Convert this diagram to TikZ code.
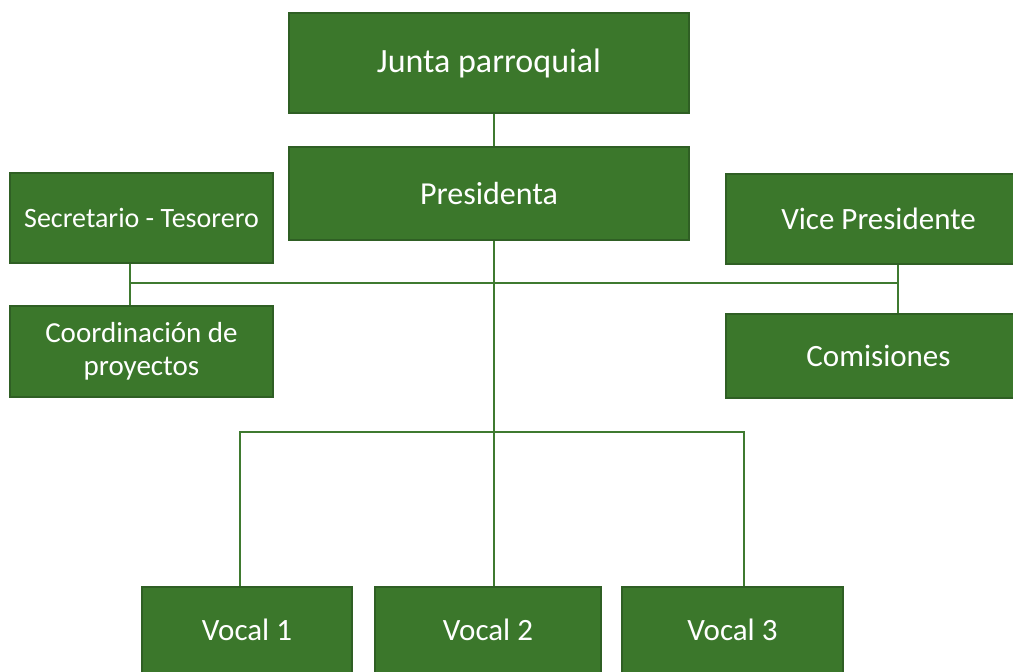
\documentclass[tikz,border=0pt]{standalone}
\usepackage{fontspec}
\setmainfont{Carlito}
\definecolor{boxfill}{HTML}{3B772B}
\definecolor{boxedge}{HTML}{2F5F24}
\definecolor{linkcol}{HTML}{3F7A30}
\begin{document}
\begin{tikzpicture}[x=1pt,y=-1pt,
  orgbox/.style={draw=boxedge, fill=boxfill, line width=1.5pt, inner sep=0pt,
    text=white, align=center},
  link/.style={draw=linkcol, line width=2.8pt}]
\useasboundingbox[fill=white] (0,0) rectangle (1013,672);
% boxes
\node[orgbox, minimum width=400, minimum height=100, font=\fontsize{34}{40}\selectfont] (jp) at (489,63) {Junta parroquial};
\node[orgbox, minimum width=400, minimum height=93, font=\fontsize{32}{38}\selectfont] (pres) at (489,193.5) {Presidenta};
\node[orgbox, minimum width=263, minimum height=90, font=\fontsize{28}{33}\selectfont] (sec) at (141.5,218) {Secretario - Tesorero};
\node[orgbox, minimum width=263, minimum height=91, font=\fontsize{29}{33}\selectfont] (coord) at (141.5,351.5) {Coordinación de\\proyectos};
\node[orgbox, minimum width=305, minimum height=90, font=\fontsize{31}{36}\selectfont] (vice) at (878.5,219) {Vice Presidente};
\node[orgbox, minimum width=305, minimum height=84, font=\fontsize{31}{36}\selectfont] (com) at (878.5,356) {Comisiones};
\node[orgbox, minimum width=210, minimum height=86, font=\fontsize{31}{36}\selectfont] (v1) at (247,630) {Vocal 1};
\node[orgbox, minimum width=226, minimum height=86, font=\fontsize{31}{36}\selectfont] (v2) at (488,630) {Vocal 2};
\node[orgbox, minimum width=221, minimum height=86, font=\fontsize{31}{36}\selectfont] (v3) at (732.5,630) {Vocal 3};
% junction coordinates
\coordinate (axis) at (494,0);
\coordinate (lx) at (130,283);
\coordinate (rx) at (898,283);
\coordinate (bl) at (240,432);
\coordinate (br) at (744,432);
% connectors
\draw[link] (jp.south -| axis) -- (pres.north -| axis);
\draw[link] (pres.south -| axis) -- (v2.north -| axis);
\draw[link] (lx) -- (rx);
\draw[link] (sec.south -| lx) -- (coord.north -| lx);
\draw[link] (vice.south -| rx) -- (com.north -| rx);
\draw[link] (v1.north -| bl) -- (bl) -- (br) -- (v3.north -| br);
\end{tikzpicture}
\end{document}
